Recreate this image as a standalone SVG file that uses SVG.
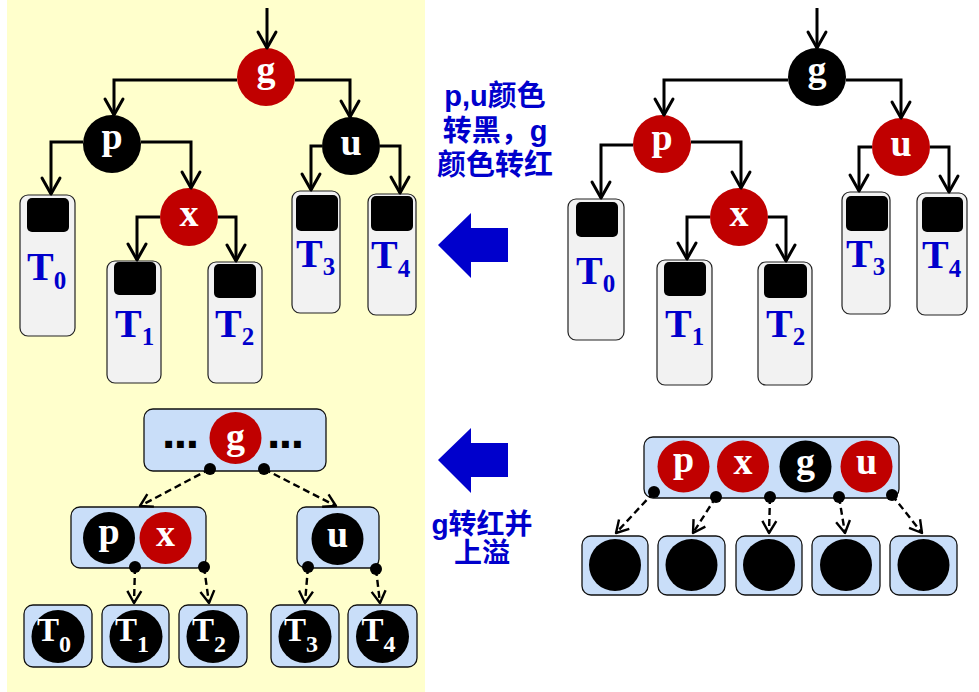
<svg xmlns="http://www.w3.org/2000/svg" width="979" height="692" viewBox="0 0 979 692">
<defs>
<style>
.bg{fill:#FFFFCC}
.red{fill:#C00000}
.blk{fill:#000}
.tb{fill:#F2F2F2;stroke:#222;stroke-width:1.2}
.ib{fill:#000}
.bb{fill:#C9DEF9;stroke:#111;stroke-width:1.3}
.lt{font-family:"Liberation Serif","Times New Roman",serif;font-weight:bold;font-size:38px;fill:#fff;text-anchor:middle}
.tl{font-family:"Liberation Serif","Times New Roman",serif;font-weight:bold;font-size:40px;fill:#0000CC}
.tw{font-family:"Liberation Serif","Times New Roman",serif;font-weight:bold;font-size:33px;fill:#fff;text-anchor:middle}
.dots{font-family:"Liberation Sans",Arial,sans-serif;font-weight:bold;font-size:48px;letter-spacing:-1.5px;fill:#000}
.cn{font-family:"Liberation Sans","Noto Sans CJK SC",sans-serif;font-weight:bold;font-size:29px;fill:#0000CC;text-anchor:middle}
.cn2{font-family:"Liberation Sans","Noto Sans CJK SC",sans-serif;font-weight:bold;font-size:28px;fill:#0000CC;text-anchor:middle}
.sl{fill:none;stroke:#000;stroke-width:3;marker-end:url(#arr)}
.dl{fill:none;stroke:#000;stroke-width:2.4;stroke-dasharray:7 4;marker-start:url(#dot);marker-end:url(#darr)}
.big{fill:#0000CC}
</style>
<marker id="arr" markerUnits="userSpaceOnUse" viewBox="-19 -12 22 24" refX="0" refY="0" markerWidth="22" markerHeight="24" orient="auto">
<path d="M-16,-9 L0,0 L-16,9" fill="none" stroke="#000" stroke-width="3" stroke-linejoin="round" stroke-linecap="round"/>
</marker>
<marker id="darr" markerUnits="userSpaceOnUse" viewBox="-15 -10 18 20" refX="0" refY="0" markerWidth="18" markerHeight="20" orient="auto">
<path d="M-12,-7 L0,0 L-12,7" fill="none" stroke="#000" stroke-width="2.4" stroke-dasharray="none" stroke-linejoin="round"/>
</marker>
<marker id="dot" markerUnits="userSpaceOnUse" viewBox="-7 -7 14 14" refX="0" refY="0" markerWidth="14" markerHeight="14">
<circle r="6" fill="#000"/>
</marker>
</defs>

<rect class="bg" x="7" y="0" width="418" height="692"/>

<!-- Top-left tree -->
<g id="tl-g"><circle class="red" cx="266" cy="77" r="29"/><text class="lt" x="266" y="82">g</text></g>
<g id="tl-p"><circle class="blk" cx="112" cy="144" r="29"/><text class="lt" x="112" y="149">p</text></g>
<g id="tl-x"><circle class="red" cx="189" cy="217" r="29"/><text class="lt" x="189" y="226">x</text></g>
<g id="tl-u"><circle class="blk" cx="351" cy="146" r="29"/><text class="lt" x="351" y="155">u</text></g>
<g id="tl-T0"><rect class="tb" x="20" y="195" width="55" height="141" rx="8"/><rect class="ib" x="27" y="198" width="42" height="34" rx="5"/><text class="tl" x="27" y="280">T<tspan font-size="25" dy="9">0</tspan></text></g>
<g id="tl-T1"><rect class="tb" x="107" y="261" width="54" height="122" rx="8"/><rect class="ib" x="114" y="262" width="42" height="33" rx="5"/><text class="tl" x="115" y="337">T<tspan font-size="25" dy="8">1</tspan></text></g>
<g id="tl-T2"><rect class="tb" x="208" y="262" width="54" height="121" rx="8"/><rect class="ib" x="214" y="264" width="42" height="34" rx="5"/><text class="tl" x="215" y="337">T<tspan font-size="25" dy="8">2</tspan></text></g>
<g id="tl-T3"><rect class="tb" x="292" y="191" width="48" height="122" rx="8"/><rect class="ib" x="296" y="195" width="42" height="36" rx="5"/><text class="tl" x="296" y="267">T<tspan font-size="25" dy="8">3</tspan></text></g>
<g id="tl-T4"><rect class="tb" x="368" y="194" width="48" height="121" rx="8"/><rect class="ib" x="371" y="196" width="42" height="35" rx="5"/><text class="tl" x="371" y="268">T<tspan font-size="25" dy="9">4</tspan></text></g>

<!-- Top-right tree -->
<g id="tr-g"><circle class="blk" cx="817" cy="77" r="29"/><text class="lt" x="817" y="82">g</text></g>
<g id="tr-p"><circle class="red" cx="662" cy="144" r="29"/><text class="lt" x="662" y="150">p</text></g>
<g id="tr-x"><circle class="red" cx="739" cy="217" r="29"/><text class="lt" x="739" y="226">x</text></g>
<g id="tr-u"><circle class="red" cx="901" cy="147" r="29"/><text class="lt" x="901" y="156">u</text></g>
<g id="tr-T0"><rect class="tb" x="568" y="199" width="56" height="141" rx="8"/><rect class="ib" x="576" y="202" width="42" height="35" rx="5"/><text class="tl" x="576" y="284">T<tspan font-size="25" dy="8">0</tspan></text></g>
<g id="tr-T1"><rect class="tb" x="657" y="260" width="55" height="125" rx="8"/><rect class="ib" x="664" y="262" width="42" height="34" rx="5"/><text class="tl" x="665" y="337">T<tspan font-size="25" dy="8">1</tspan></text></g>
<g id="tr-T2"><rect class="tb" x="758" y="262" width="54" height="123" rx="8"/><rect class="ib" x="764" y="264" width="43" height="34" rx="5"/><text class="tl" x="766" y="337">T<tspan font-size="25" dy="8">2</tspan></text></g>
<g id="tr-T3"><rect class="tb" x="842" y="192" width="48" height="122" rx="8"/><rect class="ib" x="846" y="196" width="42" height="35" rx="5"/><text class="tl" x="846" y="267">T<tspan font-size="25" dy="8">3</tspan></text></g>
<g id="tr-T4"><rect class="tb" x="917" y="193" width="50" height="122" rx="8"/><rect class="ib" x="922" y="197" width="41" height="35" rx="5"/><text class="tl" x="922" y="268">T<tspan font-size="25" dy="9">4</tspan></text></g>

<!-- Middle notes and arrows -->
<g id="note1">
<text class="cn" x="495" y="106">p,u颜色</text>
<text class="cn" x="495" y="141">转黑，g</text>
<text class="cn" x="495" y="175">颜色转红</text>
</g>
<g id="bigarrow1"><polygon class="big" points="508,228 471,228 471,213 438,245 471,278 471,262 508,262"/></g>
<g id="bigarrow2"><polygon class="big" points="508,443 471,443 471,428 438,460 471,493 471,477 508,477"/></g>
<g id="note2">
<text class="cn2" x="482" y="534">g转红并</text>
<text class="cn2" x="482" y="563">上溢</text>
</g>

<!-- Bottom-left B-tree -->
<g id="bl-top"><rect class="bb" x="144" y="409" width="182" height="62" rx="9"/>
<text class="dots" x="162" y="448">...</text>
<circle class="red" cx="235.5" cy="438" r="26"/><text class="lt" x="235.5" y="449">g</text>
<text class="dots" x="267" y="448">...</text></g>
<g id="bl-px"><rect class="bb" x="71" y="507" width="135" height="61" rx="9"/>
<circle class="blk" cx="109" cy="538" r="26"/><text class="lt" x="109" y="544">p</text>
<circle class="red" cx="165.5" cy="538" r="26"/><text class="lt" x="165.5" y="546">x</text></g>
<g id="bl-u"><rect class="bb" x="297" y="507" width="82" height="61" rx="9"/>
<circle class="blk" cx="337.5" cy="539" r="26"/><text class="lt" x="337.5" y="547">u</text></g>
<g id="bl-T0"><rect class="bb" x="24" y="605" width="68" height="62" rx="9"/><circle class="blk" cx="58" cy="636.5" r="26.5"/><text class="tw" x="54" y="641">T<tspan font-size="24" dy="11">0</tspan></text></g>
<g id="bl-T1"><rect class="bb" x="102" y="605" width="67" height="62" rx="9"/><circle class="blk" cx="136" cy="636.5" r="26.5"/><text class="tw" x="132" y="641">T<tspan font-size="24" dy="11">1</tspan></text></g>
<g id="bl-T2"><rect class="bb" x="179" y="605" width="68" height="62" rx="9"/><circle class="blk" cx="213" cy="636.5" r="26.5"/><text class="tw" x="209" y="641">T<tspan font-size="24" dy="11">2</tspan></text></g>
<g id="bl-T3"><rect class="bb" x="271" y="605" width="68" height="62" rx="9"/><circle class="blk" cx="305" cy="636.5" r="26.5"/><text class="tw" x="301" y="641">T<tspan font-size="24" dy="11">3</tspan></text></g>
<g id="bl-T4"><rect class="bb" x="348" y="605" width="69" height="62" rx="9"/><circle class="blk" cx="382.5" cy="636.5" r="26.5"/><text class="tw" x="378.5" y="641">T<tspan font-size="24" dy="11">4</tspan></text></g>

<!-- Bottom-right B-tree -->
<g id="br-top"><rect class="bb" x="644" y="437" width="255" height="61" rx="9"/>
<circle class="red" cx="683.5" cy="466.5" r="26"/><text class="lt" x="683.5" y="472">p</text>
<circle class="red" cx="743" cy="466.5" r="26"/><text class="lt" x="743" y="474">x</text>
<circle class="blk" cx="805.5" cy="466.5" r="26"/><text class="lt" x="805.5" y="474">g</text>
<circle class="red" cx="866.5" cy="466.5" r="26"/><text class="lt" x="866.5" y="474">u</text></g>
<g id="br-c0"><rect class="bb" x="582" y="536" width="66" height="59" rx="9"/><circle class="blk" cx="615" cy="565" r="26"/></g>
<g id="br-c1"><rect class="bb" x="658" y="536" width="67" height="59" rx="9"/><circle class="blk" cx="691.5" cy="565" r="26"/></g>
<g id="br-c2"><rect class="bb" x="736" y="536" width="66" height="59" rx="9"/><circle class="blk" cx="769" cy="565" r="26"/></g>
<g id="br-c3"><rect class="bb" x="812" y="536" width="68" height="59" rx="9"/><circle class="blk" cx="846" cy="565" r="26"/></g>
<g id="br-c4"><rect class="bb" x="890" y="536" width="67" height="59" rx="9"/><circle class="blk" cx="923.5" cy="565" r="26"/></g>

<!-- Connectors -->
<g id="connectors">
<path class="sl" d="M267,8 V48"/>
<path class="sl" d="M237,80 H114 V115"/>
<path class="sl" d="M295,80 H350 V117"/>
<path class="sl" d="M83,142 H51 V194"/>
<path class="sl" d="M141,142 H191 V188"/>
<path class="sl" d="M160,217 H137 V260"/>
<path class="sl" d="M218,217 H236 V261"/>
<path class="sl" d="M322,146 H311 V190"/>
<path class="sl" d="M380,146 H400 V193"/>

<path class="sl" d="M817,8 V48"/>
<path class="sl" d="M788,80 H664 V115"/>
<path class="sl" d="M846,80 H901 V118"/>
<path class="sl" d="M633,145 H601 V198"/>
<path class="sl" d="M691,142 H741 V188"/>
<path class="sl" d="M710,217 H687 V259"/>
<path class="sl" d="M768,217 H786 V261"/>
<path class="sl" d="M872,147 H859 V191"/>
<path class="sl" d="M930,147 H949 V192"/>

<path class="dl" d="M210,469 L140,506"/>
<path class="dl" d="M264,469 L336,506"/>
<path class="dl" d="M135,567 L134,603"/>
<path class="dl" d="M204,567 L209,603"/>
<path class="dl" d="M308,567 L305,603"/>
<path class="dl" d="M376,569 L380,603"/>

<path class="dl" d="M654,492 L616,533"/>
<path class="dl" d="M716,497 L693,533"/>
<path class="dl" d="M770,497 L769,533"/>
<path class="dl" d="M839,497 L845,533"/>
<path class="dl" d="M892,495 L922,533"/>
</g>
</svg>
